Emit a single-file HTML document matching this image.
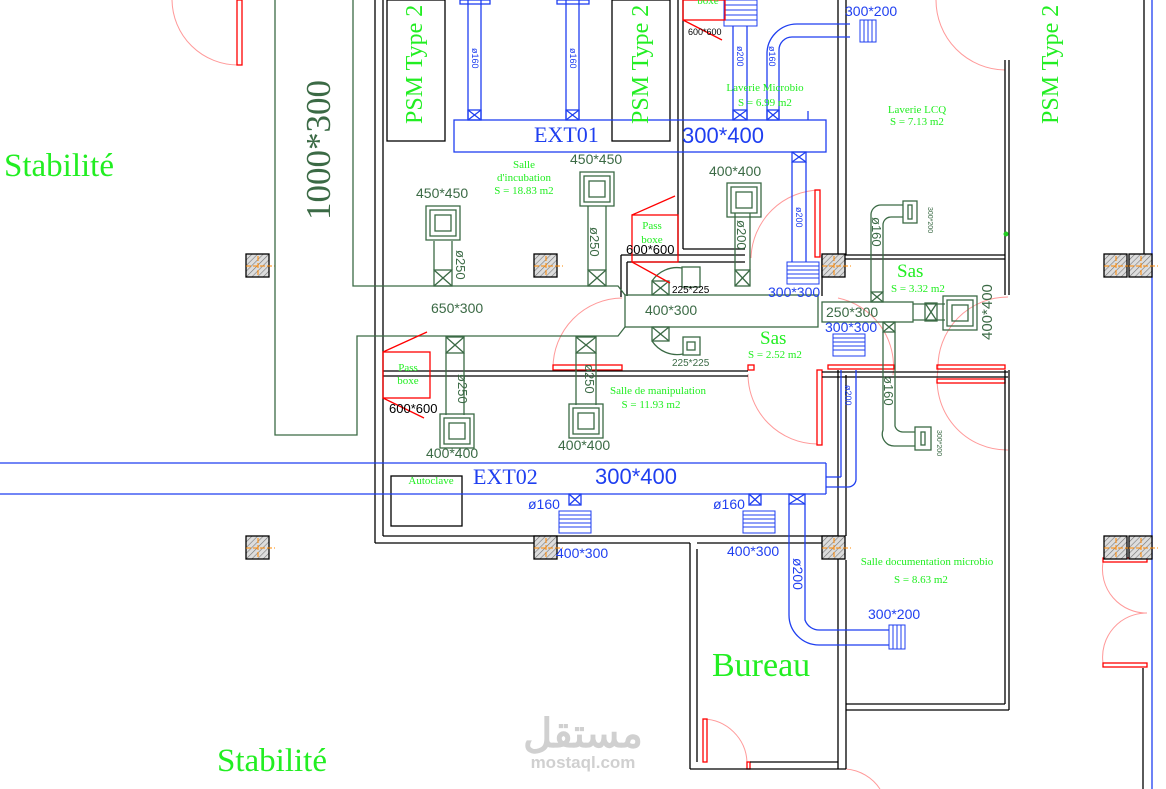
<!DOCTYPE html>
<html><head><meta charset="utf-8"><style>
html,body{margin:0;padding:0;background:#fff}
svg{display:block}
.g{fill:#22ee22;font-family:"Liberation Serif",serif}
.d{fill:#3b6a45;font-family:"Liberation Sans",sans-serif}
.b{fill:#1f3ff0;font-family:"Liberation Sans",sans-serif}
.bs{fill:#1f3ff0;font-family:"Liberation Serif",serif}
.k{fill:#000;font-family:"Liberation Sans",sans-serif}
</style></head><body>
<svg width="1166" height="789" viewBox="0 0 1166 789" xmlns="http://www.w3.org/2000/svg">
<defs>
<pattern id="h" width="4" height="4" patternUnits="userSpaceOnUse" patternTransform="rotate(45)">
<rect width="4" height="4" fill="#ddd"/><line x1="0" y1="0" x2="0" y2="4" stroke="#777" stroke-width="1.2"/></pattern>
<g id="col"><rect x="0" y="0" width="23" height="23" fill="url(#h)" stroke="#000" stroke-width="1.3"/><line x1="0" y1="12" x2="29" y2="12" stroke="#f80" stroke-dasharray="5,2"/><line x1="12" y1="2" x2="12" y2="21" stroke="#f80" stroke-dasharray="5,2"/></g>
<g id="dif"><rect x="0" y="0" width="34" height="34" fill="none" stroke="#3b6a45" stroke-width="1.3"/><rect x="4" y="4" width="26" height="26" fill="none" stroke="#3b6a45" stroke-width="1.3"/><rect x="9" y="9" width="16" height="16" fill="none" stroke="#3b6a45" stroke-width="1.3"/></g>
<g id="bgr"><rect x="0" y="0" width="32" height="22" fill="#fff" stroke="#1f3ff0"/><line x1="0" y1="4" x2="32" y2="4" stroke="#1f3ff0"/><line x1="0" y1="8" x2="32" y2="8" stroke="#1f3ff0"/><line x1="0" y1="12" x2="32" y2="12" stroke="#1f3ff0"/><line x1="0" y1="16" x2="32" y2="16" stroke="#1f3ff0"/></g>
</defs>

<g fill="none" stroke="#f99" stroke-width="1">
<path d="M238 65 A66 66 0 0 1 172 0"/>
<path d="M553 368 A70 70 0 0 1 622 298"/>
<path d="M748 374 A70 70 0 0 0 817 444"/>
<path d="M820 190 A70 70 0 0 0 751 258"/>
<path d="M838 298 A70 70 0 0 1 893 375"/>
<path d="M1008 297 A70 70 0 0 0 938 369 A70 70 0 0 0 1008 450"/>
<path d="M936 0 A70 70 0 0 0 1005 70"/>
<path d="M1103 562 A44 44 0 0 0 1147 613 A44 44 0 0 0 1103 663"/>
<path d="M703 719 A45 45 0 0 1 747 762"/>
<path d="M846 769 A45 45 0 0 1 880 789"/>
</g>
<g fill="none" stroke="#f00" stroke-width="1.3">
<rect x="237" y="0" width="5" height="65"/>
<rect x="553" y="365" width="69" height="5"/>
<rect x="748" y="365" width="6" height="5"/>
<rect x="817" y="370" width="5" height="75"/>
<rect x="815" y="190" width="5" height="67"/>
<rect x="828" y="365" width="66" height="4"/>
<rect x="937" y="365" width="68" height="4"/>
<rect x="937" y="379" width="68" height="4"/>
<rect x="1103" y="558" width="44" height="4"/>
<rect x="1103" y="663" width="44" height="4"/>
<rect x="703" y="719" width="4" height="43"/>
<rect x="747" y="762" width="3" height="7"/>
</g>

<g fill="none" stroke="#000" stroke-width="1.3">
<line x1="375" y1="0" x2="375" y2="543"/><line x1="383" y1="0" x2="383" y2="536"/>
<line x1="375" y1="543" x2="690" y2="543"/><line x1="383" y1="536" x2="838" y2="536"/>
<line x1="697" y1="543" x2="838" y2="543"/>
<line x1="690" y1="543" x2="690" y2="769"/><line x1="697" y1="549" x2="697" y2="762"/>
<line x1="690" y1="769" x2="846" y2="769"/><line x1="750" y1="762" x2="838" y2="762"/>
<line x1="838" y1="370" x2="838" y2="769"/><line x1="846" y1="560" x2="846" y2="769"/>
<line x1="846" y1="375" x2="846" y2="536"/>
<line x1="846" y1="710" x2="1009" y2="710"/><line x1="846" y1="704" x2="1005" y2="704"/>
<line x1="1005" y1="450" x2="1005" y2="704"/><line x1="1009" y1="450" x2="1009" y2="710"/>
<line x1="383" y1="371" x2="748" y2="371"/><line x1="383" y1="376" x2="748" y2="376"/>
<line x1="822" y1="372" x2="1008" y2="372"/><line x1="822" y1="377" x2="1008" y2="377"/>
<line x1="678" y1="0" x2="678" y2="255"/><line x1="683" y1="0" x2="683" y2="249"/>
<line x1="621" y1="255" x2="745" y2="255"/><line x1="627" y1="262" x2="745" y2="262"/>
<line x1="683" y1="249" x2="745" y2="249"/>
<line x1="621" y1="255" x2="621" y2="297"/><line x1="627" y1="262" x2="627" y2="296"/>
<line x1="838" y1="0" x2="838" y2="255"/><line x1="846" y1="0" x2="846" y2="255"/>
<line x1="822" y1="255" x2="1005" y2="255"/><line x1="822" y1="259" x2="1005" y2="259"/>
<line x1="822" y1="255" x2="822" y2="296"/>
<line x1="1005" y1="60" x2="1005" y2="295"/><line x1="1009" y1="60" x2="1009" y2="295"/>
<line x1="1005" y1="370" x2="1005" y2="450"/><line x1="1009" y1="370" x2="1009" y2="450"/>
<line x1="1144" y1="0" x2="1144" y2="255"/><line x1="1143" y1="668" x2="1143" y2="789"/>
<rect x="387" y="0" width="58" height="141"/>
<rect x="612" y="0" width="58" height="141"/>
<rect x="391" y="476" width="71" height="50"/>
</g>
<line x1="1152" y1="0" x2="1152" y2="789" stroke="#1f3ff0" stroke-width="1.3"/>

<use href="#col" x="246" y="254"/><use href="#col" x="534" y="254"/><use href="#col" x="822" y="254"/>
<use href="#col" x="1104" y="254"/><use href="#col" x="1129" y="254"/>
<use href="#col" x="246" y="536"/><use href="#col" x="534" y="536"/><use href="#col" x="822" y="536"/>
<use href="#col" x="1104" y="536"/><use href="#col" x="1129" y="536"/>

<g fill="none" stroke="#3b6a45" stroke-width="1.3">
<polyline points="275,0 275,435 357,435 357,336 618,336 625,327"/>
<polyline points="353,0 353,286 618,286 625,295"/>
<rect x="625" y="295" width="193" height="32"/>
<rect x="822" y="302" width="91" height="20"/>
<line x1="913" y1="304" x2="945" y2="304"/><line x1="913" y1="320" x2="945" y2="320"/>
<rect x="434" y="270" width="18" height="16"/><line x1="434" y1="270" x2="452" y2="286"/><line x1="452" y1="270" x2="434" y2="286"/>
<line x1="434" y1="241" x2="434" y2="270"/><line x1="452" y1="241" x2="452" y2="270"/>
<rect x="588" y="270" width="18" height="16"/><line x1="588" y1="270" x2="606" y2="286"/><line x1="606" y1="270" x2="588" y2="286"/>
<line x1="588" y1="206" x2="588" y2="270"/><line x1="606" y1="206" x2="606" y2="270"/>
<rect x="735" y="270" width="15" height="16"/><line x1="735" y1="270" x2="750" y2="286"/><line x1="750" y1="270" x2="735" y2="286"/>
<line x1="735" y1="213" x2="735" y2="270"/><line x1="750" y1="213" x2="750" y2="270"/>
<rect x="446" y="337" width="18" height="16"/><line x1="446" y1="337" x2="464" y2="353"/><line x1="464" y1="337" x2="446" y2="353"/>
<line x1="446" y1="353" x2="446" y2="415"/><line x1="464" y1="353" x2="464" y2="415"/>
<rect x="576" y="337" width="20" height="16"/><line x1="576" y1="337" x2="596" y2="353"/><line x1="596" y1="337" x2="576" y2="353"/>
<line x1="576" y1="353" x2="576" y2="405"/><line x1="596" y1="353" x2="596" y2="405"/>
<rect x="652" y="281" width="17" height="14"/><line x1="652" y1="281" x2="669" y2="295"/><line x1="669" y1="281" x2="652" y2="295"/>
<path d="M652 281 A30 30 0 0 1 682 268"/><rect x="682" y="267" width="18" height="20"/>
<rect x="652" y="327" width="17" height="14"/><line x1="652" y1="327" x2="669" y2="341"/><line x1="669" y1="327" x2="652" y2="341"/>
<path d="M652 341 A30 30 0 0 0 683 354"/><rect x="683" y="337" width="17" height="18"/>
<rect x="687" y="342" width="8" height="8"/>
<rect x="871" y="292" width="12" height="10"/><line x1="871" y1="292" x2="883" y2="302"/><line x1="883" y1="292" x2="871" y2="302"/>
<path d="M871 292 L871 214 A10 10 0 0 1 881 205 L903 205"/><path d="M883 292 L883 225 A8 8 0 0 1 891 217 L903 217"/>
<rect x="903" y="201" width="14" height="22"/><rect x="908" y="205" width="4" height="14"/>
<rect x="883" y="322" width="12" height="10"/><line x1="883" y1="322" x2="895" y2="332"/><line x1="895" y1="322" x2="883" y2="332"/>
<path d="M883 332 L883 430 A12 12 0 0 0 895 446 L915 446"/><path d="M895 332 L895 426 A8 8 0 0 0 903 432 L915 432"/>
<rect x="915" y="427" width="16" height="23"/><rect x="921" y="432" width="4" height="13"/>
<rect x="925" y="303" width="12" height="18"/><line x1="925" y1="303" x2="937" y2="321"/><line x1="937" y1="303" x2="925" y2="321"/>
</g>
<use href="#dif" x="426" y="206"/><use href="#dif" x="580" y="172"/><use href="#dif" x="727" y="183"/>
<use href="#dif" x="440" y="414"/><use href="#dif" x="569" y="404"/><use href="#dif" x="943" y="296"/>

<g fill="none" stroke="#1f3ff0" stroke-width="1.3">
<rect x="454" y="120" width="372" height="32"/>
<line x1="0" y1="463" x2="826" y2="463"/><line x1="0" y1="494" x2="826" y2="494"/><line x1="826" y1="463" x2="826" y2="494"/>
<line x1="468" y1="0" x2="468" y2="120"/><line x1="481" y1="0" x2="481" y2="120"/>
<rect x="468" y="110" width="13" height="10"/><line x1="468" y1="110" x2="481" y2="120"/><line x1="481" y1="110" x2="468" y2="120"/>
<rect x="460" y="0" width="30" height="4"/>
<line x1="566" y1="0" x2="566" y2="120"/><line x1="579" y1="0" x2="579" y2="120"/>
<rect x="566" y="110" width="13" height="10"/><line x1="566" y1="110" x2="579" y2="120"/><line x1="579" y1="110" x2="566" y2="120"/>
<rect x="557" y="0" width="32" height="4"/>
<line x1="733" y1="26" x2="733" y2="120"/><line x1="747" y1="26" x2="747" y2="120"/>
<rect x="733" y="110" width="14" height="10"/><line x1="733" y1="110" x2="747" y2="120"/><line x1="747" y1="110" x2="733" y2="120"/>
<line x1="767" y1="120" x2="767" y2="55"/><line x1="779" y1="120" x2="779" y2="50"/>
<rect x="767" y="110" width="12" height="10"/><line x1="767" y1="110" x2="779" y2="120"/><line x1="779" y1="110" x2="767" y2="120"/>
<path d="M767 55 A30 30 0 0 1 797 24 L850 24"/><path d="M779 50 A13 13 0 0 1 792 37 L850 37"/>
<polyline points="808,111 808,120"/>
<rect x="792" y="152" width="14" height="10"/><line x1="792" y1="152" x2="806" y2="162"/><line x1="806" y1="152" x2="792" y2="162"/>
<line x1="792" y1="162" x2="792" y2="262"/><line x1="806" y1="162" x2="806" y2="262"/>
<line x1="841" y1="370" x2="841" y2="477"/><line x1="856" y1="370" x2="856" y2="480"/>
<path d="M841 477 L826 477"/><path d="M856 480 A8 8 0 0 1 848 487 L826 487"/>
<rect x="569" y="494" width="12" height="11"/><line x1="569" y1="494" x2="581" y2="505"/><line x1="581" y1="494" x2="569" y2="505"/>
<rect x="749" y="494" width="12" height="11"/><line x1="749" y1="494" x2="761" y2="505"/><line x1="761" y1="494" x2="749" y2="505"/>
<rect x="789" y="494" width="16" height="10"/><line x1="789" y1="494" x2="805" y2="504"/><line x1="805" y1="494" x2="789" y2="504"/>
<path d="M789 504 L789 615 A30 30 0 0 0 819 645 L889 645"/><path d="M805 504 L805 620 A15 15 0 0 0 820 630 L889 630"/>
</g>
<rect x="860" y="20" width="16" height="22" fill="#fff" stroke="#1f3ff0"/>
<g stroke="#1f3ff0"><line x1="864" y1="20" x2="864" y2="42"/><line x1="868" y1="20" x2="868" y2="42"/><line x1="872" y1="20" x2="872" y2="42"/></g>
<rect x="889" y="625" width="16" height="24" fill="#fff" stroke="#1f3ff0"/>
<g stroke="#1f3ff0"><line x1="893" y1="625" x2="893" y2="649"/><line x1="897" y1="625" x2="897" y2="649"/><line x1="901" y1="625" x2="901" y2="649"/></g>
<rect x="724" y="0" width="33" height="26" fill="#fff" stroke="#1f3ff0"/>
<g stroke="#1f3ff0"><line x1="724" y1="5" x2="757" y2="5"/><line x1="724" y1="10" x2="757" y2="10"/><line x1="724" y1="15" x2="757" y2="15"/><line x1="724" y1="20" x2="757" y2="20"/></g>
<use href="#bgr" x="787" y="262"/><use href="#bgr" x="833" y="334"/>
<use href="#bgr" x="559" y="511"/><use href="#bgr" x="743" y="511"/>

<g fill="none" stroke="#f00" stroke-width="1.3">
<rect x="632" y="215" width="46" height="47"/><line x1="632" y1="215" x2="675" y2="196"/><line x1="632" y1="262" x2="670" y2="283"/>
<rect x="383" y="352" width="47" height="46"/><line x1="383" y1="352" x2="427" y2="332"/><line x1="383" y1="398" x2="424" y2="418"/>
<rect x="683" y="0" width="42" height="20"/><line x1="683" y1="20" x2="722" y2="40"/>
</g>
<circle cx="1006" cy="234" r="2.5" fill="#2c2"/>

<text class="g" x="4" y="176" font-size="33">Stabilité</text>
<text class="g" x="217" y="771" font-size="33">Stabilité</text>
<text class="g" x="712" y="676" font-size="34">Bureau</text>
<text class="d" font-size="35" transform="translate(330,220) rotate(-90)" style="font-family:'Liberation Serif',serif">1000*300</text>
<text class="g" font-size="24" transform="translate(422,124) rotate(-90)">PSM Type 2</text>
<text class="g" font-size="24" transform="translate(648,124) rotate(-90)">PSM Type 2</text>
<text class="g" font-size="24" transform="translate(1058,124) rotate(-90)">PSM Type 2</text>
<text class="bs" x="534" y="142" font-size="22">EXT01</text>
<text class="b" x="682" y="143" font-size="22">300*400</text>
<text class="bs" x="473" y="484" font-size="22">EXT02</text>
<text class="b" x="595" y="484" font-size="22">300*400</text>
<g class="g" font-size="11" text-anchor="middle">
<text x="524" y="168">Salle</text><text x="524" y="181">d'incubation</text><text x="524" y="194">S = 18.83 m2</text>
<text x="765" y="91">Laverie Microbio</text><text x="765" y="106">S = 6.99 m2</text>
<text x="917" y="113">Laverie LCQ</text><text x="917" y="125">S = 7.13 m2</text>
<text x="652" y="229">Pass</text><text x="652" y="243">boxe</text>
<text x="408" y="371">Pass</text><text x="408" y="384">boxe</text>
<text x="708" y="4">boxe</text>
<text x="658" y="394">Salle de manipulation</text><text x="651" y="408">S = 11.93 m2</text>
<text x="775" y="358">S = 2.52 m2</text><text x="918" y="292">S = 3.32 m2</text>
<text x="927" y="565">Salle documentation microbio</text><text x="921" y="583">S = 8.63 m2</text>
<text x="431" y="484">Autoclave</text>
</g>
<text class="g" x="760" y="344" font-size="19">Sas</text>
<text class="g" x="897" y="277" font-size="19">Sas</text>
<g class="d" font-size="14">
<text x="416" y="198">450*450</text><text x="570" y="164">450*450</text><text x="709" y="176">400*400</text>
<text x="431" y="313">650*300</text><text x="645" y="315">400*300</text><text x="826" y="317">250*300</text>
<text x="426" y="458">400*400</text><text x="558" y="450">400*400</text>
</g>
<text class="d" font-size="15" transform="translate(992,340) rotate(-90)">400*400</text>
<g class="d" font-size="13">
<text transform="translate(456,250) rotate(90)">ø250</text>
<text transform="translate(590,227) rotate(90)">ø250</text>
<text transform="translate(737,220) rotate(90)">ø200</text>
<text transform="translate(458,374) rotate(90)">ø250</text>
<text transform="translate(585,364) rotate(90)">ø250</text>
<text transform="translate(872,217) rotate(90)">ø160</text>
<text transform="translate(884,376) rotate(90)">ø160</text>
</g>
<g class="k" font-size="10"><text x="672" y="293">225*225</text><text x="672" y="366" fill="#3b6a45">225*225</text></g>
<g class="k" font-size="13"><text x="626" y="254">600*600</text><text x="389" y="413">600*600</text></g>
<text class="k" x="688" y="35" font-size="9">600*600</text>
<g class="d" font-size="7"><text transform="translate(928,207) rotate(90)">300*200</text><text transform="translate(937,430) rotate(90)">300*200</text></g>
<g class="b" font-size="14">
<text x="845" y="16">300*200</text><text x="768" y="297">300*300</text><text x="825" y="332">300*300</text>
<text x="528" y="509">ø160</text><text x="713" y="509">ø160</text>
<text x="556" y="558">400*300</text><text x="727" y="556">400*300</text><text x="868" y="619">300*200</text>
</g>
<g class="b" font-size="9">
<text transform="translate(472,48) rotate(90)">ø160</text><text transform="translate(570,48) rotate(90)">ø160</text>
<text transform="translate(737,46) rotate(90)">ø200</text><text transform="translate(769,46) rotate(90)">ø160</text>
<text transform="translate(796,207) rotate(90)">ø200</text><text transform="translate(845,385) rotate(90)">ø200</text>
</g>
<text class="b" font-size="14" transform="translate(793,558) rotate(90)">ø200</text>

<text x="583" y="747" font-size="40" fill="#d0d0d0" text-anchor="middle" font-family="'Noto Sans CJK SC',sans-serif" font-weight="bold">مستقل</text>
<text x="583" y="768" font-size="17" fill="#d0d0d0" text-anchor="middle" font-family="'Liberation Sans',sans-serif" font-weight="bold">mostaql.com</text>
</svg>
</body></html>
